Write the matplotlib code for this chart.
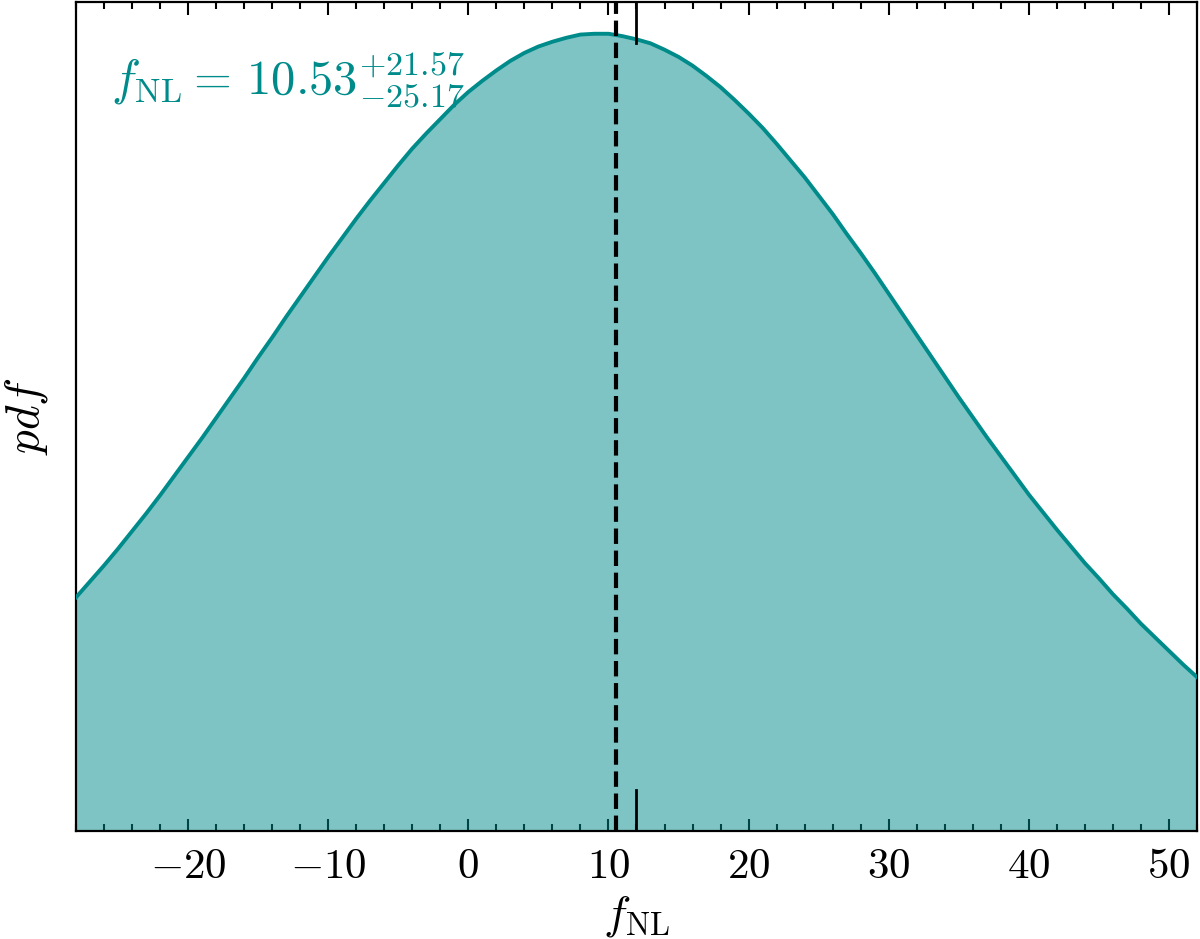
import matplotlib
matplotlib.use("Agg")
import matplotlib.pyplot as plt
from matplotlib.ticker import MultipleLocator, FixedLocator, FixedFormatter

plt.rcParams['mathtext.fontset'] = 'cm'
plt.rcParams['font.family'] = 'serif'

# ---- data ----
fnl_grid = list(range(-28, 53))
pdf_vals = [0.293, 0.313, 0.333, 0.354, 0.376, 0.398, 0.421, 0.445, 0.469, 0.493,
            0.518, 0.543, 0.568, 0.594, 0.619, 0.645, 0.670, 0.695, 0.720, 0.744,
            0.768, 0.791, 0.813, 0.835, 0.856, 0.875, 0.893, 0.911, 0.927, 0.941,
            0.954, 0.966, 0.976, 0.984, 0.990, 0.995, 0.999, 1.000, 1.000, 0.997,
            0.993, 0.988, 0.980, 0.971, 0.960, 0.947, 0.933, 0.917, 0.900, 0.882,
            0.862, 0.841, 0.820, 0.797, 0.774, 0.749, 0.725, 0.700, 0.674, 0.648,
            0.622, 0.596, 0.570, 0.544, 0.519, 0.494, 0.470, 0.446, 0.422, 0.400,
            0.378, 0.357, 0.336, 0.317, 0.297, 0.279, 0.260, 0.243, 0.226, 0.209,
            0.193]
median_fnl = 10.53
err_plus = 21.57
err_minus = 25.17
true_fnl = 12
xtick_vals = [-20, -10, 0, 10, 20, 30, 40, 50]
xtick_labels = [r'$-20$', r'$-10$', r'$0$', r'$10$', r'$20$', r'$30$', r'$40$', r'$50$']

line_col = '#008B8B'

fig = plt.figure(figsize=(12, 9.39), dpi=100)
ax = fig.add_axes([0.0633, 0.115, 0.9342, 0.883])

ax.plot(fnl_grid, pdf_vals, color=line_col, lw=2.8, zorder=3,
        solid_joinstyle='round')
ax.fill_between(fnl_grid, 0, pdf_vals, color=line_col, alpha=0.5, lw=0, zorder=2)
ax.axvline(median_fnl, color='black', ls='--', lw=3, zorder=4)
ax.axvline(true_fnl, ymin=0.0, ymax=0.05, color='black', lw=2, zorder=4)
ax.axvline(true_fnl, ymin=0.95, ymax=1.0, color='black', lw=2, zorder=4)

ax.set_xlim(-28, 52)
ax.set_ylim(0, 1.04)

ax.xaxis.set_major_locator(FixedLocator(xtick_vals))
ax.xaxis.set_major_formatter(FixedFormatter(xtick_labels))
ax.xaxis.set_minor_locator(MultipleLocator(2))
ax.tick_params(axis='x', which='both', direction='in', top=True, bottom=True,
               labelsize=31, pad=10, width=1.5)
ax.tick_params(axis='x', which='major', length=9)
ax.tick_params(axis='x', which='minor', length=5)
ax.set_yticks([])
for s in ax.spines.values():
    s.set_linewidth(1.6)

ax.set_xlabel(r'$f_{\rm NL}$', fontsize=33, labelpad=5)
ax.set_ylabel(r'$pdf$', fontsize=34, labelpad=19)

ax.text(0.031, 0.889,
        r'$f_{\rm NL} =\, %.2f^{+%.2f}_{-%.2f}$' % (median_fnl, err_plus, err_minus),
        transform=ax.transAxes, color=line_col, fontsize=35, va='baseline', ha='left',
        zorder=1)

fig.savefig('out.png', dpi=100)
